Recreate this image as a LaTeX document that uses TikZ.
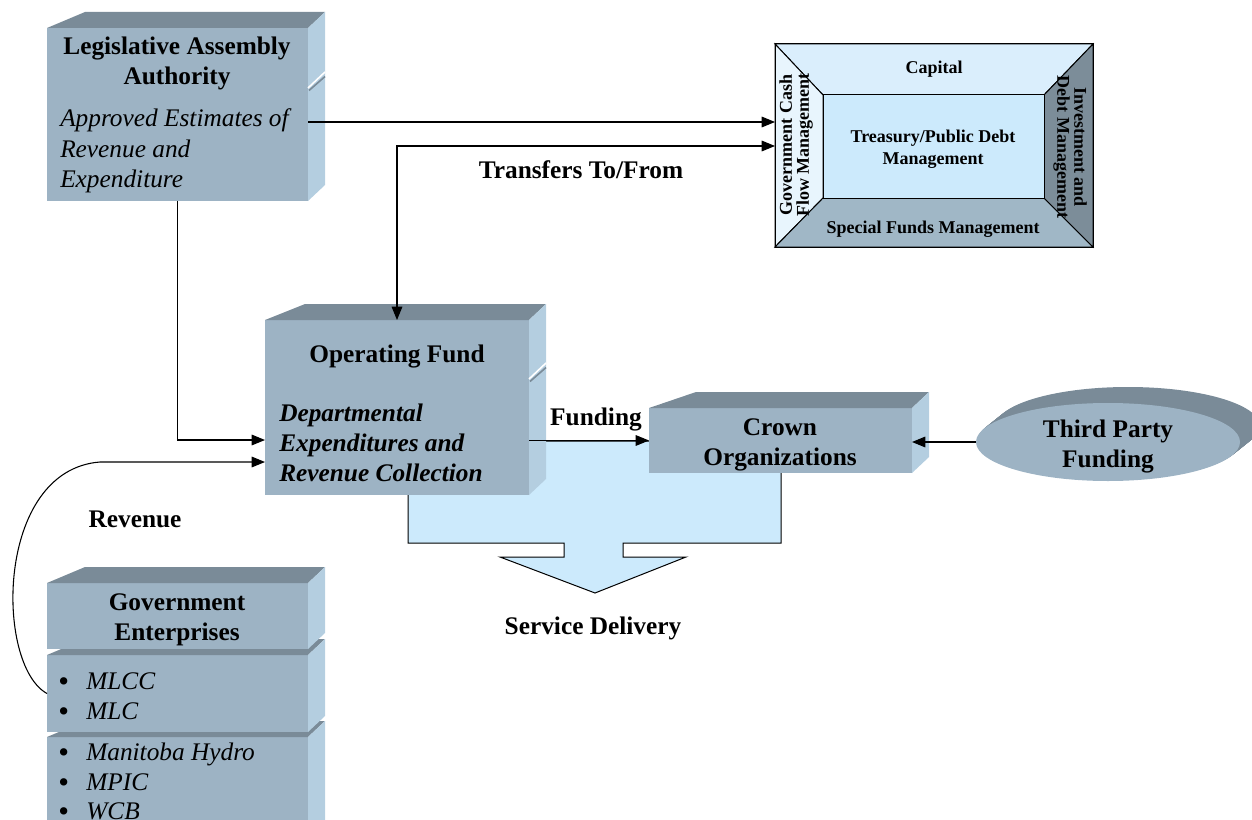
\documentclass[tikz,border=0pt]{standalone}
\usepackage{fontspec}
\setmainfont{Liberation Serif}
\usetikzlibrary{arrows.meta,fit,shapes.geometric}

\definecolor{facefront}{RGB}{157,179,196}
\definecolor{facetop}{RGB}{122,139,152}
\definecolor{faceside}{RGB}{180,206,224}
\definecolor{paleblue}{RGB}{204,234,252}
\definecolor{tretop}{RGB}{218,238,252}
\definecolor{treleft}{RGB}{232,245,253}
\definecolor{trebottom}{RGB}{160,183,198}
\definecolor{treright}{RGB}{124,141,153}

\tikzset{
  frontface/.style={fill=facefront, inner sep=0pt, outer sep=0pt, draw=none},
  topface/.style={fill=facetop},
  sideface/.style={fill=faceside},
  bigtext/.style={font=\fontsize{19}{22.5}\selectfont\bfseries, inner sep=0pt, align=center},
  bigital/.style={font=\fontsize{19}{23}\selectfont\itshape, inner sep=0pt, align=left, anchor=west},
  bigboldital/.style={font=\fontsize{19}{22.5}\selectfont\bfseries\itshape, inner sep=0pt, align=left, anchor=west},
  bullettext/.style={font=\fontsize{19}{22.5}\selectfont, inner sep=0pt, anchor=base west},
  trextext/.style={font=\fontsize{13.5}{16.5}\selectfont\bfseries, inner sep=0pt, align=center},
  treside/.style={font=\fontsize{13.5}{12.75}\selectfont\bfseries, inner sep=0pt, align=center},
  trepart/.style={draw=black, line width=0.75pt},
  conn/.style={line width=0.8pt, -{Triangle[length=10pt,width=8pt]}},
  conntwo/.style={line width=0.8pt, {Triangle[length=10pt,width=8pt]}-{Triangle[length=10pt,width=8pt]}},
}

% top and right faces of a block whose front face is node #1;
% #2 = how far back the top face reaches on its left side
\newcommand\blockfaces[2]{%
  \fill[topface] (#1.north west) -- ++(#2,-16) -- ([shift={(17,-16)}]#1.north east) -- (#1.north east) -- cycle;
  \fill[sideface] (#1.north east) -- ++(17,-16) -- ([shift={(17,-16)}]#1.south east) -- (#1.south east) -- cycle;
}
% a break in the right face of a block, where two stacked parts meet
\newcommand\blocknotch[2]{%
  \draw[white, line width=1.2pt] (#1,#2) -- ++(17,-16);
  \draw[facetop, line width=1.2pt] (#1+1,#2+2.5) -- ++(16,-14);
}
% list bullet
\newcommand\itembullet{\makebox[21pt][l]{\raisebox{-2pt}{\fontsize{23}{23}\selectfont •}}}

\begin{document}
\begin{tikzpicture}[x=0.75pt,y=-0.75pt]
\useasboundingbox (0,0) rectangle (1252,820);
\clip (0,0) rectangle (1252,820);

% ---- service delivery band and arrow ----
\path[fill=paleblue, draw=black, line width=0.75pt]
  (408,441) -- (408,543) -- (564,543) -- (564,557) -- (500,557) -- (595,593)
  -- (686,557) -- (623,557) -- (623,543) -- (781,543) -- (781,441) -- cycle;

% ---- Legislative Assembly ----
\node[frontface, fit={(47,28)(308,201)}] (leg) {};
\blockfaces{leg}{38}
\blocknotch{308}{88}
\node[bigtext] at (177,63) {Legislative Assembly\\Authority};
\node[bigital] at (60,151) {Approved Estimates of\\Revenue and\\Expenditure};

% ---- Operating Fund ----
\node[frontface, fit={(265,320)(529,495)}] (op) {};
\blockfaces{op}{40}
\blocknotch{529}{379}
\node[bigtext] at (397,357) {Operating Fund};
\node[bigboldital] at (279,443) {Departmental\\Expenditures and\\Revenue Collection};

% ---- Crown Organizations ----
\node[frontface, fit={(649,408)(912,473)}] (crown) {};
\blockfaces{crown}{47}
\node[bigtext] at (780,445) {Crown\\Organizations};

% ---- Third Party Funding (extruded disc) ----
\foreach \t in {16,15,...,1}
  \fill[facetop] (1108+1.25*\t,442-\t) ellipse [x radius=99pt, y radius=29.25pt];
\node[ellipse, fill=facefront, minimum width=198pt, minimum height=58.5pt, inner sep=0pt] (tp) at (1108,442) {};
\node[bigtext] at (1108,447) {Third Party\\Funding};

% ---- Government Enterprises (three stacked parts) ----
\node[frontface, fit={(47,737)(308,860)}] (ge3) {};
\blockfaces{ge3}{38}
\node[frontface, fit={(47,655)(308,732)}] (ge2) {};
\blockfaces{ge2}{38}
\node[frontface, fit={(47,583)(308,649)}] (ge1) {};
\blockfaces{ge1}{38}
\node[bigtext] at (177,620) {Government\\Enterprises};
\node[bullettext] at (58,689) {\itembullet\textit{MLCC}};
\node[bullettext] at (58,719) {\itembullet\textit{MLC}};
\node[bullettext] at (58,760) {\itembullet\textit{Manitoba Hydro}};
\node[bullettext] at (58,790) {\itembullet\textit{MPIC}};
\node[bullettext] at (58,819) {\itembullet\textit{WCB}};

% ---- Treasury / Public Debt Management ----
\node[inner sep=0pt, outer sep=0pt, fit={(775,44)(1093,247)}] (tre) {};
\node[inner sep=0pt, outer sep=0pt, fit={(823,95)(1044,198)}] (trec) {};
\path[trepart, fill=tretop] (tre.north west) -- (tre.north east) -- (trec.north east) -- (trec.north west) -- cycle;
\path[trepart, fill=treleft] (tre.north west) -- (trec.north west) -- (trec.south west) -- (tre.south west) -- cycle;
\path[trepart, fill=trebottom] (tre.south west) -- (trec.south west) -- (trec.south east) -- (tre.south east) -- cycle;
\path[trepart, fill=treright] (tre.north east) -- (tre.south east) -- (trec.south east) -- (trec.north east) -- cycle;
\path[trepart, fill=paleblue] (trec.north west) rectangle (trec.south east);
\draw[line width=0.75pt] (tre.north west) rectangle (tre.south east);
\node[trextext] at (934,69) {Capital};
\node[trextext] at (933,149) {Treasury/Public Debt\\Management};
\node[trextext] at (933,229) {Special Funds Management};
\node[treside, rotate=90] at (796,145) {Government Cash\\Flow Management};
\node[treside, rotate=-90] at (1070,147) {Investment and\\Debt Management};

% ---- connectors ----
\draw[conn] (leg.east |- 0,122) -- (tre.west |- 0,122);
\draw[conntwo] (tre.west |- 0,146) -| (op.north);
\draw[conn] (leg.south) |- (op.west |- 0,440);
\draw[conn] (ge2.west) .. controls (-5,665) and (-5,470) .. (100,462) -- (op.west |- 0,462);
\draw[conn] (op.east |- crown.west) -- (crown.west);
\draw[conn] (tp.west) -- (crown.east |- tp.west);

% ---- labels ----
\node[bigtext] at (581,170) {Transfers To/From};
\node[bigtext] at (596,420) {Funding};
\node[bigtext] at (135,519) {Revenue};
\node[bigtext] at (593,628) {Service Delivery};
\end{tikzpicture}
\end{document}
